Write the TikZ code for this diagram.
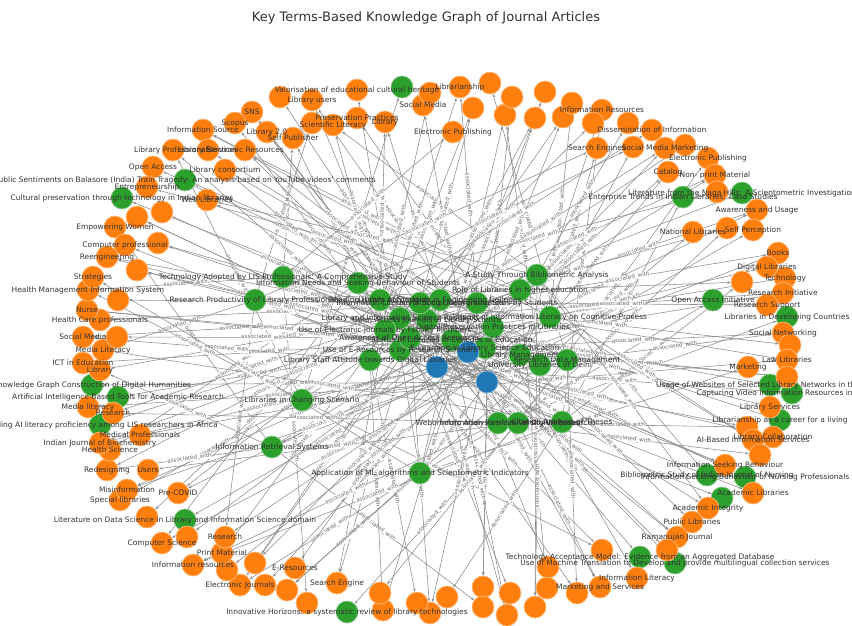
\documentclass[tikz,border=0pt]{standalone}
\usepackage{fontspec}
\setmainfont{DejaVu Sans}
\usetikzlibrary{arrows.meta}
\pgfdeclarelayer{background}
\pgfdeclarelayer{foreground}
\pgfsetlayers{background,main,foreground}
\definecolor{tor}{HTML}{FF7F0E}
\definecolor{tgr}{HTML}{2CA02C}
\definecolor{tbl}{HTML}{1F77B4}
\begin{document}
\begin{tikzpicture}[x=1pt,y=-1pt,
  onode/.style={circle,fill=tor,draw=tor!55!white,line width=0.7pt,minimum size=22pt,inner sep=0pt},
  gnode/.style={circle,fill=tgr,draw=tgr!55!white,line width=0.7pt,minimum size=22pt,inner sep=0pt},
  bnode/.style={circle,fill=tbl,draw=tbl!55!white,line width=0.7pt,minimum size=22pt,inner sep=0pt},
  nlab/.style={font=\fontsize{7.5}{8}\selectfont,text=black!80,inner sep=0pt},
  edge/.style={draw=black!45,line width=0.55pt,-{Stealth[length=3.5pt,width=2.5pt]}},
  elab/.style={font=\fontsize{5.6}{6}\selectfont,text=black!58,fill=white,inner sep=0.3pt,sloped,pos=0.5}]
\useasboundingbox (0,0) rectangle (852,625);
\clip (0,0) rectangle (852,625);
\begin{pgfonlayer}{background}
\fill[white] (0,0) rectangle (852,625);
\end{pgfonlayer}
\node[font=\fontsize{13}{15}\selectfont,text=black!80] (title) at (426,18) {Key Terms-Based Knowledge Graph of Journal Articles};
% inner hubs (green)
\foreach \x/\y/\t [count=\i] in {
 283/277/{Technology Adopted by LIS Professionals: A Comprehensive Study},
 255/300/{Research Productivity of Library Professionals},
 358/283/{Information Needs and Seeking Behaviour of Students},
 370/360/{Library Staff Attitude towards Digital Libraries},
 400/350/{Use of E-Resources by Research Scholars},
 302/400/{Libraries in Changing Scenario},
 272/447/{Information Retrieval Systems},
 420/473/{Application of ML algorithms and Scientometric Indicators},
 537/275/{A Study Through Bibliometric Analysis},
 520/290/{Role of Libraries in higher education},
 477/303/{Use of Social Networking Sites by Students},
 550/317/{Impact of Information Literacy on Cognitive Process},
 493/327/{Digital Preservation Practices in Libraries},
 452/340/{Status of Libraries in Colleges of Education},
 485/348/{E-Learning in Library Science Education},
 520/355/{Library Management},
 540/365/{University Libraries of Delhi},
 567/360/{Research Data Management},
 498/423/{Webometric Analysis of University Websites},
 518/423/{Information Retrieval of Digital Resources},
 562/422/{Citation Analysis of Theses},
 427/320/{Open Access Journals in Library Science},
 380/300/{Reading Habits of Students},
 400/318/{Library and Information Science Research},
 420/303/{Information Literacy among Undergraduates},
 385/330/{Use of Electronic Journals by Faculty Members},
 440/300/{Library Automation in Engineering Colleges},
 410/338/{Awareness of Open Access Resources}}{
 \node[gnode] (h\i) at (\x,\y) {};
 \begin{pgfonlayer}{foreground}\node[nlab] (hl\i) at (\x,\y) {\t};\end{pgfonlayer}
}
% blue hubs
\node[bnode] (h29) at (437,367) {};
\node[bnode] (h30) at (468,352) {};
\node[bnode] (h31) at (487,382) {};
% inner edges to blues
\begin{pgfonlayer}{background}
\foreach \i in {1,...,28}{
 \pgfmathtruncatemacro\b{29+mod(\i,3)}
 \draw[edge] (h\b) -- (h\i) node[elab]{associated\_with};
}
\end{pgfonlayer}
% ring green
\foreach \x/\y/\t [count=\i] in {
 402/87/{},
 185/180/{Public Sentiments on Balasore (India) Train Tragedy: An analysis based on YouTube videos' comments},
 122/198/{Cultural preservation through technology in Indian libraries},
 683/197/{Enterprise Trends in Indian Libraries: Case Studies},
 742/193/{Literature from the Naga Hills: A Scientometric Investigation},
 92/385/{Knowledge Graph Construction of Digital Humanities},
 118/397/{Artificial Intelligence-Based Tools for Academic Research},
 100/425/{Building AI literacy proficiency among LIS researchers in Africa},
 185/520/{Literature on Data Science in Library and Information Science domain},
 347/612/{Innovative Horizons: a systematic review of library technologies},
 640/557/{Technology Acceptance Model: Evidence from an Aggregated Database},
 675/563/{Use of Machine Translation to Develop and provide multilingual collection services},
 722/498/{},
 707/475/{Bibliometric Study of Indian Journal of Nursing},
 745/477/{Information Seeking Behaviour of Nursing Professionals},
 787/317/{Libraries in Developing Countries},
 770/385/{Usage of Websites of Selected Library Networks in the World},
 792/393/{Capturing Video Information Resources in Libraries},
 780/420/{Librarianship as a career for a living},
 713/300/{Open Access Initiative}}{
 \node[gnode] (r\i) at (\x,\y) {};
 \begin{pgfonlayer}{foreground}\node[nlab] (rl\i) at (\x,\y) {\t};\end{pgfonlayer}
 \pgfmathtruncatemacro\h{mod(\i*5,31)+1}
 \begin{pgfonlayer}{background}\draw[edge] (h\h) -- (r\i) node[elab]{associated\_with};\end{pgfonlayer}
}
% ring orange
\foreach \x/\y/\t [count=\i] in {
 357/90/{Valorisation of educational cultural heritage},
 312/100/{Library users},
 280/97/{},
 252/112/{SNS},
 235/123/{Scopus},
 203/130/{Information Source},
 267/132/{Library 2.0},
 293/138/{Self Publisher},
 312/123/{},
 333/125/{Scientific Literacy},
 357/118/{Preservation Practices},
 385/122/{Library},
 423/105/{Social Media},
 173/150/{Library Professionals},
 208/150/{Library Services},
 245/150/{Electronic Resources},
 153/167/{Open Access},
 225/170/{Library consortium},
 147/187/{Entrepreneurship},
 207/200/{Web Libraries},
 162/212/{},
 137/217/{},
 115/227/{Empowering Women},
 158/243/{},
 125/245/{Computer professional},
 107/257/{Reengineering},
 430/93/{},
 460/87/{Librarianship},
 490/83/{},
 473/108/{},
 453/132/{Electronic Publishing},
 505/115/{},
 512/97/{},
 535/118/{},
 545/92/{},
 563/117/{},
 572/103/{},
 602/110/{Information Resources},
 593/123/{},
 597/148/{Search Engines},
 628/123/{},
 633/147/{},
 652/130/{Dissemination of Information},
 665/148/{Social Media Marketing},
 685/145/{},
 668/172/{Catalog},
 708/158/{Electronic Publishing},
 715/175/{Non- print Material},
 717/192/{},
 757/210/{Awareness and Usage},
 693/232/{National Libraries},
 727/228/{},
 753/230/{Self Perception},
 778/253/{Books},
 767/267/{Digital Libraries},
 742/282/{},
 785/278/{Technology},
 783/293/{Research Initiative},
 767/305/{Research Support},
 783/333/{Social Networking},
 790/345/{},
 787/360/{Law Libraries},
 748/367/{Marketing},
 787/377/{},
 770/407/{Library Services},
 747/427/{},
 773/437/{Library Collaboration},
 753/440/{AI-Based Information Services},
 760/455/{},
 725/465/{Information Seeking Behaviour},
 753/493/{Academic Libraries},
 708/508/{Academic Integrity},
 692/522/{Public Libraries},
 677/537/{Ramanujan Journal},
 667/550/{},
 602/550/{},
 637/578/{Information Literacy},
 600/587/{Marketing and Services},
 548/567/{},
 577/593/{},
 547/588/{},
 535/607/{},
 510/593/{},
 483/587/{},
 483/607/{},
 507/615/{},
 447/597/{},
 430/613/{},
 417/603/{},
 383/610/{},
 380/593/{},
 337/583/{Search Engine},
 307/603/{},
 287/590/{},
 265/585/{},
 240/585/{Electronic Journals},
 295/568/{E-Resources},
 255/563/{},
 227/570/{},
 193/565/{Information resources},
 222/553/{Print Material},
 225/537/{Research},
 187/537/{},
 162/543/{Computer Science},
 147/517/{},
 178/493/{Pre-COVID},
 120/500/{Special libraries},
 127/490/{Misinformation},
 148/470/{Users},
 107/470/{Redesigning},
 110/450/{Health Science},
 100/443/{Indian Journal of Biochemistry},
 140/435/{Medical Professionals},
 113/413/{Research},
 88/407/{Media literacy},
 100/370/{Library},
 83/363/{ICT in Education},
 103/350/{Media Literacy},
 117/337/{},
 83/337/{Social Media},
 100/320/{Health Care professionals},
 87/310/{Nurse},
 118/300/{},
 88/290/{Health Management Information System},
 93/277/{Strategies},
 137/270/{}}{
 \node[onode] (o\i) at (\x,\y) {};
 \begin{pgfonlayer}{foreground}\node[nlab] (ol\i) at (\x,\y) {\t};\end{pgfonlayer}
 \pgfmathtruncatemacro\h{mod(\i*7,31)+1}
 \pgfmathtruncatemacro\k{mod(\i*11+5,31)+1}
 \pgfmathtruncatemacro\m{mod(\i,2)}
 \begin{pgfonlayer}{background}
 \draw[edge] (h\h) -- (o\i) node[elab]{associated\_with};
 \ifnum\m=0 \draw[edge] (h\k) -- (o\i) node[elab]{associated\_with};\fi
 \end{pgfonlayer}
}
\end{tikzpicture}
\end{document}
